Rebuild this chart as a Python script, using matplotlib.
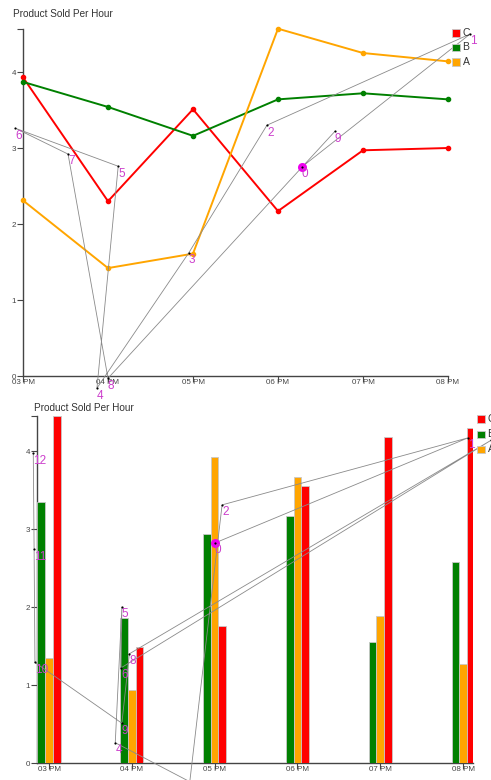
import matplotlib
matplotlib.use('Agg')
import matplotlib.pyplot as plt
from matplotlib.patches import Rectangle
import numpy as np

plt.rcParams['font.family'] = ['Liberation Sans', 'DejaVu Sans']

# ---------------- data ----------------
hours = ['03 PM', '04 PM', '05 PM', '06 PM', '07 PM', '08 PM']
series_names = ['C', 'B', 'A']
series_colors = ['#ff0000', '#008000', '#ffa500']

# top panel (lines)
line_C = [3.93, 2.30, 3.51, 2.17, 2.97, 3.00]
line_B = [3.87, 3.54, 3.16, 3.64, 3.72, 3.64]
line_A = [2.31, 1.42, 1.61, 4.57, 4.25, 4.14]

# bottom panel (bars)
bar_C = [4.45, 1.49, 1.76, 3.55, 4.18, 4.29]
bar_B = [3.35, 1.86, 2.94, 3.17, 1.55, 2.58]
bar_A = [1.35, 0.94, 3.92, 3.67, 1.88, 1.27]

# annotation paths (numbered points)
top_path_x = [3.28, 5.26, 2.87, 1.95, 0.87, 1.12, -0.09, 0.53, 1.00, 3.67]
top_path_y = [2.75, 4.50, 3.30, 1.62, -0.16, 2.76, 3.26, 2.92, -0.03, 3.22]

bot_path_x = [2.00, 5.06, 2.09, 1.70, 0.80, 0.88, 0.87, 5.34, 0.97, 0.88, -0.17, -0.18, -0.19]
bot_path_y = [2.82, 4.17, 3.31, -0.24, 0.26, 2.00, 1.22, 4.14, 1.40, 0.51, 1.29, 2.74, 3.97]

title = 'Product Sold Per Hour'

# ---------------- figure ----------------
W, H = 491, 780
fig = plt.figure(figsize=(W / 100, H / 100), dpi=100)


def fx(px):
    return px / W


def fy(py):
    return 1 - py / H


def style(ax, ytop):
    for s in ['top', 'right']:
        ax.spines[s].set_visible(False)
    for s in ['left', 'bottom']:
        ax.spines[s].set_color('#444444')
        ax.spines[s].set_linewidth(1.0)
    ax.tick_params(axis='both', colors='#444444', labelcolor='#444444',
                   labelsize=5.8, length=4, width=0.8)
    ax.tick_params(axis='x', pad=-1.5)
    ax.tick_params(axis='y', pad=1)
    ax.set_yticks([0, 1, 2, 3, 4])
    ax.set_yticks([ytop], minor=True)
    ax.tick_params(axis='y', which='minor', length=4, width=0.8, colors='#444444')
    ax.patch.set_alpha(0)


def draw_path(ax, xs, ys):
    ax.plot(xs, ys, color='#8a8a8a', lw=0.6, clip_on=False, zorder=6)
    ax.scatter(xs, ys, s=2.5, color='black', clip_on=False, zorder=7, linewidths=0)
    ax.plot([xs[0]], [ys[0]], 'o', color='#ee00ee', ms=6.5, clip_on=False,
            zorder=6.5, mec='none')
    for i, (x, y) in enumerate(zip(xs, ys)):
        ax.annotate(str(i), (x, y), xytext=(0, -1), textcoords='offset points',
                    ha='left', va='top', color='#cc3fcc', fontsize=8.5,
                    annotation_clip=False, zorder=8)


def legend(x_left, y_tops, size=7.5):
    for name, col, yt in zip(series_names, series_colors, y_tops):
        fig.add_artist(Rectangle((fx(x_left), fy(yt + size)), size / W, size / H,
                                 transform=fig.transFigure, facecolor=col,
                                 edgecolor='#c8c8c8', lw=0.6))
        fig.text(fx(x_left + size + 3), fy(yt + size / 2), name, ha='left',
                 va='center', fontsize=7.5, color='#333333')


# ---------------- top panel ----------------
ytop1 = 4.566
ax1 = fig.add_axes([fx(23), fy(376), 425 / W, 347 / H])
x = np.arange(len(hours))
for vals, col in zip([line_C, line_B, line_A], series_colors):
    ax1.plot(x, vals, color=col, lw=1.4, marker='o', ms=3, zorder=3, clip_on=False)
ax1.set_xlim(0, 5)
ax1.set_ylim(0, ytop1)
ax1.set_xticks(x)
ax1.set_xticklabels(hours)
style(ax1, ytop1)
draw_path(ax1, top_path_x, top_path_y)
fig.text(fx(13), fy(14), title, ha='left', va='center', fontsize=7.2, color='#333333')
legend(452, [29, 43.5, 58])

# ---------------- bottom panel ----------------
ytop2 = 4.45
ax2 = fig.add_axes([fx(37), fy(763), 436 / W, 347 / H])
bw = 0.093
for vals, col, off in zip([bar_B, bar_A, bar_C],
                          ['#008000', '#ffa500', '#ff0000'], [-bw, 0, bw]):
    ax2.bar(x + off, vals, width=bw, color=col, edgecolor='#c8c8c8',
            linewidth=0.6, zorder=3)
ax2.set_xlim(-0.145, 5.12)
ax2.set_ylim(0, ytop2)
ax2.set_xticks(x)
ax2.set_xticklabels(hours)
style(ax2, ytop2)
draw_path(ax2, bot_path_x, bot_path_y)
fig.text(fx(34), fy(408), title, ha='left', va='center', fontsize=7.2, color='#333333')
legend(477, [415.5, 430.5, 445.5])

fig.savefig('out.png', dpi=100)
